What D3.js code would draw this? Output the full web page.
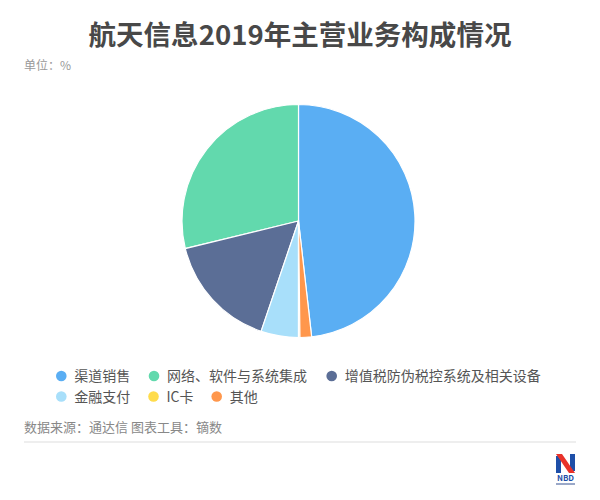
<!DOCTYPE html>
<html>
<head>
<meta charset="utf-8">
<script src="https://cdn.jsdelivr.net/npm/d3@7/dist/d3.min.js"></script>
<style>
body { margin: 0; background: #fff; }
svg { display: block; font-family: "Noto Sans CJK SC", "Noto Sans", sans-serif; }
</style>
</head>
<body>
<svg id="chart" width="600" height="500"></svg>
<script>
// Data (legend order)
const categories = ["渠道销售", "网络、软件与系统集成", "增值税防伪税控系统及相关设备", "金融支付", "IC卡", "其他"];
const values = [48.2, 28.8, 16.0, 5.2, 0.2, 1.6];
const colors = ["#5AAEF3", "#62D9AD", "#5B6E96", "#A8DFFA", "#FFDC4C", "#FF974C"];
// clockwise drawing order from 12 o'clock
const drawOrder = ["渠道销售", "其他", "IC卡", "金融支付", "增值税防伪税控系统及相关设备", "网络、软件与系统集成"];

const data = categories.map((c, i) => ({ name: c, value: values[i], color: colors[i] }));
const svg = d3.select("#chart");

// Title
svg.append("text").attr("x", 300).attr("y", 45).attr("text-anchor", "middle")
  .attr("font-size", 27).attr("font-weight", "bold").attr("fill", "#484848")
  .attr("textLength", 423).attr("lengthAdjust", "spacingAndGlyphs")
  .text("航天信息2019年主营业务构成情况");
svg.append("text").attr("x", 24).attr("y", 70).attr("font-size", 12).attr("fill", "#999")
  .text("单位：%");

// Pie
const cx = 298.5, cy = 221, r = 116.5;
const pie = d3.pie().value(d => d.value)
  .sort((a, b) => drawOrder.indexOf(a.name) - drawOrder.indexOf(b.name));
const arc = d3.arc().innerRadius(0).outerRadius(r);
const g = svg.append("g").attr("transform", `translate(${cx},${cy})`);
g.selectAll("path").data(pie(data)).join("path")
  .attr("d", arc).attr("fill", d => d.data.color)
  .attr("stroke", "#fff").attr("stroke-width", 1.2);

// Legend
const legendPos = [
  { x: 61.3, y: 376 }, { x: 154, y: 376 }, { x: 331.7, y: 376 },
  { x: 61.3, y: 396.5 }, { x: 153.5, y: 396.5 }, { x: 216.7, y: 396.5 }
];
const lg = svg.append("g");
data.forEach((d, i) => {
  const p = legendPos[i];
  lg.append("circle").attr("cx", p.x).attr("cy", p.y).attr("r", 5.3).attr("fill", d.color);
  lg.append("text").attr("x", p.x + 13).attr("y", p.y).attr("dy", "0.36em")
    .attr("font-size", 14).attr("fill", "#555").text(d.name);
});

// Source
svg.append("text").attr("x", 24).attr("y", 427).attr("dy", "0.36em")
  .attr("font-size", 13).attr("fill", "#888").text("数据来源：通达信 图表工具：镝数");
svg.append("line").attr("x1", 24).attr("x2", 576).attr("y1", 442).attr("y2", 442)
  .attr("stroke", "#ddd").attr("stroke-width", 1);

// Logo
const logo = svg.append("g").attr("transform", "translate(556,454)");
logo.append("rect").attr("x", 0).attr("y", 2).attr("width", 5).attr("height", 17).attr("fill", "#1E4FA8");
logo.append("rect").attr("x", 14).attr("y", 0).attr("width", 5).attr("height", 17).attr("fill", "#1E4FA8");
logo.append("path").attr("d", "M0,0 L6,0 L19,19 L13,19 Z").attr("fill", "#E8322A");
logo.append("text").attr("x", 9.5).attr("y", 27).attr("text-anchor", "middle")
  .attr("font-size", 8).attr("font-weight", "bold").attr("fill", "#1E4FA8").text("NBD");
logo.append("rect").attr("x", 0).attr("y", 29).attr("width", 19).attr("height", 2).attr("fill", "#9aa8c8");
</script>
</body>
</html>
